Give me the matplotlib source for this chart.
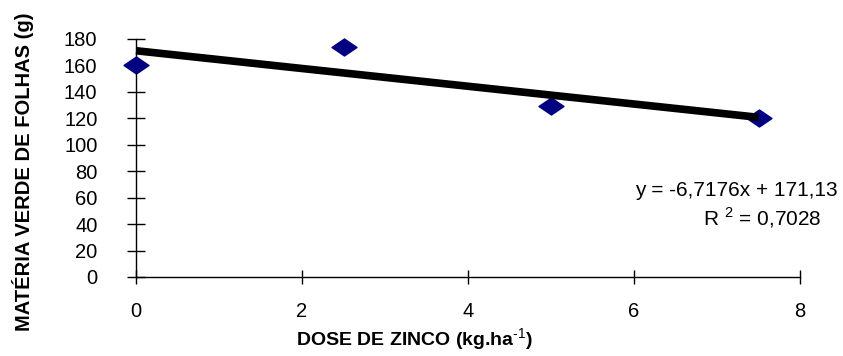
import numpy as np
import matplotlib
matplotlib.use("Agg")
import matplotlib.pyplot as plt
from matplotlib.path import Path

dose = [0, 2.5, 5, 7.5]
materia = [160, 174, 129, 120]
slope = -6.7176
intercept = 171.13
eq_text = "y = -6,7176x + 171,13"
r2_text = "R $^{2}$ = 0,7028"

plt.rcParams['font.family'] = ['Liberation Sans', 'DejaVu Sans']
plt.rcParams['mathtext.fontset'] = 'custom'
plt.rcParams['mathtext.rm'] = 'Liberation Sans'
plt.rcParams['mathtext.bf'] = 'Liberation Sans:bold'

fig = plt.figure(figsize=(8.43, 3.56), dpi=100)
ax = fig.add_axes([136 / 843, 79 / 356, 664 / 843, 238 / 356])

# wide diamond marker
diamond = Path([(-1, 0), (0, 0.68), (1, 0), (0, -0.68), (-1, 0)],
               [Path.MOVETO, Path.LINETO, Path.LINETO, Path.LINETO, Path.CLOSEPOLY])
ax.plot(dose, materia, linestyle='none', marker=diamond, markersize=18,
        color='#000080', zorder=3, clip_on=False)

xs = np.array([dose[0], dose[-1]])
ax.plot(xs, slope * xs + intercept, color='black', linewidth=5.5,
        solid_capstyle='butt', zorder=4, clip_on=False)

ax.set_xlim(0, 8)
ax.set_ylim(0, 180)
ax.set_xticks([0, 2, 4, 6, 8])
ax.set_yticks(range(0, 181, 20))
for s in ['top', 'right']:
    ax.spines[s].set_visible(False)
for s in ['left', 'bottom']:
    ax.spines[s].set_linewidth(1.0)
    ax.spines[s].set_color('black')
ax.tick_params(axis='y', direction='inout', length=13.5, width=1, labelsize=14.5, pad=21)
ax.tick_params(axis='x', direction='inout', length=9.5, width=1, labelsize=14.5, pad=13)

ax.text(838 / 843, 1 - 190 / 356, eq_text, transform=fig.transFigure,
        ha='right', va='center', fontsize=15)
ax.text(822 / 843, 1 - 218 / 356, r2_text, transform=fig.transFigure,
        ha='right', va='center', fontsize=15)

fig.text(23 / 843, 1 - 172 / 356, "MATÉRIA VERDE DE FOLHAS (g)", rotation=90,
         ha='center', va='center', fontsize=14.5, fontweight='bold')
fig.text(415 / 843, 1 - 340 / 356, "DOSE DE ZINCO (kg.ha$^{\\text{-1}}$)",
         ha='center', va='center', fontsize=14, fontweight='bold')

fig.savefig("out.png", dpi=100)
